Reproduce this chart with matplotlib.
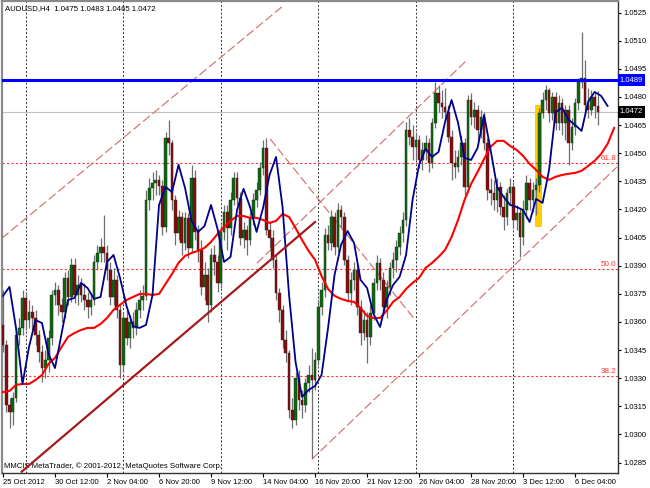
import numpy as np
import matplotlib
matplotlib.use("Agg")
import matplotlib.pyplot as plt
from matplotlib.patches import Rectangle

plt.rcParams["font.family"] = ["Liberation Sans", "DejaVu Sans"]

# AUDUSD H4 candles (bar 0 = 25 Oct 2012)
opens = [
    1.03584, 1.03477, 1.03157, 1.03120, 1.03194, 1.03530, 1.03568, 1.03728, 1.03610, 1.03653,
    1.03621, 1.03530, 1.03440, 1.03354, 1.03397, 1.03514, 1.03744, 1.03771, 1.03691, 1.03653,
    1.03835, 1.03733, 1.03904, 1.03744, 1.03797, 1.03744, 1.03717, 1.03680, 1.03717, 1.03920,
    1.03968, 1.04000, 1.03968, 1.03877, 1.03733, 1.03824, 1.03664, 1.03370, 1.03621, 1.03514,
    1.03600, 1.03568, 1.03664, 1.03717, 1.03739, 1.04251, 1.04315, 1.04342, 1.04358, 1.04326,
    1.04107, 1.04582, 1.04555, 1.04251, 1.04075, 1.04160, 1.04021, 1.04155, 1.03995, 1.04368,
    1.04080, 1.03984, 1.03787, 1.03851, 1.03691, 1.03957, 1.03920, 1.03808, 1.04080, 1.04187,
    1.04101, 1.04251, 1.04368, 1.04261, 1.04048, 1.04091, 1.04037, 1.04155, 1.04251, 1.04304,
    1.04422, 1.04528, 1.04091, 1.04048, 1.03931, 1.03755, 1.03664, 1.03504, 1.03434, 1.03130,
    1.03077, 1.03301, 1.03184, 1.03157, 1.03274, 1.03317, 1.03290, 1.03397, 1.03680, 1.03771,
    1.04064, 1.04021, 1.04160, 1.04000, 1.04197, 1.04160, 1.03931, 1.03755, 1.03824, 1.03877,
    1.03680, 1.03541, 1.03610, 1.03520, 1.03648, 1.03808, 1.03915, 1.03824, 1.03680, 1.03787,
    1.03888, 1.03931, 1.04000, 1.04075, 1.04144, 1.04624, 1.04587, 1.04534, 1.04571, 1.04464,
    1.04518, 1.04555, 1.04448, 1.04662, 1.04822, 1.04768, 1.04747, 1.04720, 1.04587, 1.04448,
    1.04427, 1.04480, 1.04555, 1.04320, 1.04784, 1.04694, 1.04731, 1.04624, 1.04694, 1.04555,
    1.04304, 1.04288, 1.04251, 1.04320, 1.04213, 1.04160, 1.04288, 1.04320, 1.04144, 1.04181,
    1.04053, 1.04197, 1.04342, 1.04251, 1.04304, 1.04331, 1.04715, 1.04784, 1.04838, 1.04715,
    1.04800, 1.04662, 1.04768, 1.04662, 1.04731, 1.04555, 1.04640, 1.04768, 1.04880, 1.04902,
    1.04758, 1.04731, 1.04800, 1.04750,
]
highs = [
    1.03771, 1.03504, 1.03194, 1.03226, 1.03557, 1.03621, 1.03771, 1.03760, 1.03717, 1.03691,
    1.03664, 1.03557, 1.03477, 1.03450, 1.03557, 1.03771, 1.03813, 1.03797, 1.03728, 1.03867,
    1.03877, 1.03941, 1.03941, 1.03851, 1.03835, 1.03808, 1.03760, 1.03755, 1.03957, 1.04011,
    1.04048, 1.04171, 1.04011, 1.03920, 1.03888, 1.03851, 1.03691, 1.03653, 1.03664, 1.03637,
    1.03653, 1.03707, 1.03771, 1.03797, 1.04304, 1.04368, 1.04400, 1.04411, 1.04384, 1.04358,
    1.04614, 1.04678, 1.04571, 1.04277, 1.04197, 1.04187, 1.04187, 1.04181, 1.04438, 1.04411,
    1.04117, 1.04037, 1.03920, 1.03888, 1.03995, 1.04011, 1.03957, 1.04117, 1.04224, 1.04224,
    1.04293, 1.04400, 1.04400, 1.04293, 1.04133, 1.04117, 1.04187, 1.04288, 1.04347, 1.04454,
    1.04571, 1.04582, 1.04133, 1.04091, 1.03957, 1.03781, 1.03691, 1.03557, 1.03450, 1.03194,
    1.03333, 1.03344, 1.03237, 1.03301, 1.03370, 1.03461, 1.03440, 1.03717, 1.03813, 1.04101,
    1.04117, 1.04197, 1.04187, 1.04235, 1.04224, 1.04187, 1.03957, 1.03867, 1.03920, 1.03904,
    1.03717, 1.03664, 1.03653, 1.03691, 1.03835, 1.03957, 1.03941, 1.03867, 1.03824, 1.03920,
    1.03973, 1.04037, 1.04112, 1.04187, 1.04667, 1.04688, 1.04651, 1.04614, 1.04598, 1.04560,
    1.04598, 1.04582, 1.04688, 1.04880, 1.04864, 1.04838, 1.04848, 1.04758, 1.04624, 1.04518,
    1.04518, 1.04598, 1.04582, 1.04811, 1.04822, 1.04774, 1.04758, 1.04731, 1.04720, 1.04582,
    1.04368, 1.04358, 1.04368, 1.04347, 1.04277, 1.04315, 1.04368, 1.04347, 1.04224, 1.04208,
    1.04251, 1.04384, 1.04368, 1.04347, 1.04368, 1.04742, 1.04827, 1.04864, 1.04848, 1.04827,
    1.04827, 1.04811, 1.04795, 1.04758, 1.04758, 1.04688, 1.04795, 1.04902, 1.05147, 1.04998,
    1.04848, 1.04838, 1.04827, 1.04830,
]
lows = [
    1.03440, 1.03120, 1.03034, 1.03050, 1.03173, 1.03477, 1.03530, 1.03557, 1.03568, 1.03557,
    1.03477, 1.03386, 1.03280, 1.03301, 1.03333, 1.03477, 1.03691, 1.03637, 1.03600, 1.03621,
    1.03691, 1.03707, 1.03701, 1.03691, 1.03707, 1.03664, 1.03621, 1.03637, 1.03691, 1.03877,
    1.03920, 1.03920, 1.03824, 1.03691, 1.03691, 1.03621, 1.03301, 1.03333, 1.03477, 1.03461,
    1.03514, 1.03530, 1.03621, 1.03664, 1.03717, 1.04197, 1.04251, 1.04277, 1.04277, 1.04064,
    1.04080, 1.04491, 1.04197, 1.04011, 1.04037, 1.03957, 1.03984, 1.03941, 1.03973, 1.04037,
    1.03920, 1.03744, 1.03717, 1.03600, 1.03653, 1.03851, 1.03760, 1.03781, 1.04037, 1.03984,
    1.04064, 1.04224, 1.04224, 1.04011, 1.03995, 1.03957, 1.04011, 1.04117, 1.04213, 1.04277,
    1.04384, 1.04064, 1.03995, 1.03888, 1.03717, 1.03600, 1.03461, 1.03386, 1.03088, 1.03034,
    1.03050, 1.03130, 1.03088, 1.03120, 1.03226, 1.02874, 1.03237, 1.03370, 1.03637, 1.03733,
    1.03984, 1.03984, 1.03957, 1.03973, 1.04101, 1.03904, 1.03717, 1.03691, 1.03771, 1.03637,
    1.03477, 1.03504, 1.03381, 1.03477, 1.03610, 1.03771, 1.03771, 1.03637, 1.03621, 1.03744,
    1.03835, 1.03867, 1.03957, 1.04027, 1.04112, 1.04544, 1.04464, 1.04464, 1.04422, 1.04411,
    1.04464, 1.04400, 1.04422, 1.04635, 1.04720, 1.04688, 1.04678, 1.04560, 1.04358, 1.04368,
    1.04400, 1.04438, 1.04277, 1.04293, 1.04651, 1.04635, 1.04571, 1.04582, 1.04518, 1.04251,
    1.04224, 1.04197, 1.04187, 1.04171, 1.04091, 1.04117, 1.04224, 1.04101, 1.04091, 1.03947,
    1.04011, 1.04155, 1.04197, 1.04187, 1.04171, 1.04293, 1.04688, 1.04731, 1.04667, 1.04678,
    1.04624, 1.04624, 1.04598, 1.04571, 1.04438, 1.04518, 1.04598, 1.04731, 1.04848, 1.04720,
    1.04688, 1.04704, 1.04688, 1.04650,
]
closes = [
    1.03477, 1.03157, 1.03120, 1.03194, 1.03530, 1.03568, 1.03728, 1.03610, 1.03653, 1.03621,
    1.03530, 1.03440, 1.03354, 1.03397, 1.03514, 1.03744, 1.03771, 1.03691, 1.03653, 1.03835,
    1.03733, 1.03904, 1.03744, 1.03797, 1.03744, 1.03717, 1.03680, 1.03717, 1.03920, 1.03968,
    1.04000, 1.03968, 1.03877, 1.03733, 1.03824, 1.03664, 1.03370, 1.03621, 1.03514, 1.03600,
    1.03568, 1.03664, 1.03717, 1.03739, 1.04251, 1.04315, 1.04342, 1.04358, 1.04326, 1.04107,
    1.04582, 1.04555, 1.04251, 1.04075, 1.04160, 1.04021, 1.04155, 1.03995, 1.04368, 1.04080,
    1.03984, 1.03787, 1.03851, 1.03691, 1.03957, 1.03920, 1.03808, 1.04080, 1.04187, 1.04101,
    1.04251, 1.04368, 1.04261, 1.04048, 1.04091, 1.04037, 1.04155, 1.04251, 1.04304, 1.04422,
    1.04528, 1.04091, 1.04048, 1.03931, 1.03755, 1.03664, 1.03504, 1.03434, 1.03130, 1.03077,
    1.03301, 1.03184, 1.03157, 1.03274, 1.03317, 1.03290, 1.03397, 1.03680, 1.03771, 1.04064,
    1.04021, 1.04160, 1.04000, 1.04197, 1.04160, 1.03931, 1.03755, 1.03824, 1.03877, 1.03680,
    1.03541, 1.03610, 1.03520, 1.03648, 1.03808, 1.03915, 1.03824, 1.03680, 1.03787, 1.03888,
    1.03931, 1.04000, 1.04075, 1.04144, 1.04624, 1.04587, 1.04534, 1.04571, 1.04464, 1.04518,
    1.04555, 1.04448, 1.04662, 1.04822, 1.04768, 1.04747, 1.04720, 1.04587, 1.04448, 1.04427,
    1.04480, 1.04555, 1.04320, 1.04784, 1.04694, 1.04731, 1.04624, 1.04694, 1.04555, 1.04304,
    1.04288, 1.04251, 1.04320, 1.04213, 1.04160, 1.04288, 1.04320, 1.04144, 1.04181, 1.04053,
    1.04197, 1.04342, 1.04251, 1.04304, 1.04331, 1.04715, 1.04784, 1.04838, 1.04715, 1.04800,
    1.04662, 1.04768, 1.04662, 1.04731, 1.04555, 1.04640, 1.04768, 1.04880, 1.04902, 1.04758,
    1.04731, 1.04800, 1.04752, 1.04720,
]

# moving averages read every 2nd bar (drawn shifted, so they run past the last candle)
ma_fast = [
    1.03739, 1.03787, 1.03568, 1.03269, 1.03466, 1.03610, 1.03594, 1.03429, 1.03354, 1.03536,
    1.03717, 1.03728, 1.03808, 1.03781, 1.03723, 1.03733, 1.03920, 1.03957, 1.03835, 1.03685,
    1.03578, 1.03568, 1.03584, 1.03744, 1.04224, 1.04320, 1.04293, 1.04438, 1.04315, 1.04139,
    1.04080, 1.04112, 1.04224, 1.04096, 1.03920, 1.03947, 1.04197, 1.04310, 1.04213, 1.04080,
    1.04208, 1.04384, 1.04480, 1.04213, 1.03744, 1.03386, 1.03200, 1.03237, 1.03258, 1.03317,
    1.03568, 1.03851, 1.04011, 1.04085, 1.04021, 1.03824, 1.03781, 1.03642, 1.03573, 1.03717,
    1.03797, 1.03840, 1.03957, 1.04251, 1.04438, 1.04523, 1.04480, 1.04507, 1.04667, 1.04784,
    1.04662, 1.04475, 1.04464, 1.04528, 1.04704, 1.04518, 1.04320, 1.04267, 1.04224, 1.04213,
    1.04197, 1.04133, 1.04256, 1.04235, 1.04411, 1.04720, 1.04742, 1.04678, 1.04651, 1.04619,
    1.04774, 1.04827, 1.04806, 1.04752,
]
ma_slow = [
    1.03226, 1.03232, 1.03264, 1.03269, 1.03269, 1.03290, 1.03317, 1.03376, 1.03408, 1.03466,
    1.03520, 1.03541, 1.03557, 1.03568, 1.03568, 1.03589, 1.03621, 1.03664, 1.03691, 1.03717,
    1.03733, 1.03749, 1.03749, 1.03744, 1.03749, 1.03803, 1.03856, 1.03915, 1.03952, 1.03968,
    1.03979, 1.03995, 1.04027, 1.04069, 1.04107, 1.04139, 1.04165, 1.04165, 1.04155, 1.04155,
    1.04144, 1.04128, 1.04139, 1.04176, 1.04160, 1.04101, 1.04037, 1.03979, 1.03931, 1.03845,
    1.03776, 1.03739, 1.03723, 1.03712, 1.03707, 1.03674, 1.03632, 1.03621, 1.03621, 1.03659,
    1.03707, 1.03733, 1.03776, 1.03808, 1.03835, 1.03888, 1.03915, 1.03947, 1.03984, 1.04053,
    1.04144, 1.04251, 1.04336, 1.04400, 1.04469, 1.04534, 1.04566, 1.04566, 1.04539, 1.04518,
    1.04486, 1.04443, 1.04411, 1.04374, 1.04358, 1.04374, 1.04384, 1.04390, 1.04395, 1.04406,
    1.04432, 1.04459, 1.04496, 1.04550, 1.04635,
]

date_labels = ["25 Oct 2012", "30 Oct 12:00", "2 Nov 04:00", "6 Nov 20:00", "9 Nov 12:00",
               "14 Nov 04:00", "16 Nov 20:00", "21 Nov 12:00", "26 Nov 04:00", "28 Nov 20:00",
               "3 Dec 12:00", "6 Dec 04:00"]
label_bars = [0, 16, 32, 48, 64, 80, 96, 112, 128, 144, 160, 176]
grid_bars = [7, 37, 67, 97, 127, 157]
price_ticks = [1.0285, 1.0300, 1.0315, 1.0330, 1.0345, 1.0360, 1.0375, 1.0390, 1.0405,
               1.0420, 1.0435, 1.0450, 1.0465, 1.0480, 1.0495, 1.0510, 1.0525]

resistance = 1.0489
bid = 1.0472
fib_names = ["61.8", "50.0", "38.2"]
fib_prices = [1.04447, 1.03881, 1.03312]

# chart objects as (bar, price) anchor pairs
trend_main = [(5.75, 1.02801), (96.0, 1.04133)]
channel_lines = [
    [(-0.4, 1.04046), (85.8, 1.05281)],
    [(82.2, 1.04576), (126.8, 1.03610)],
    [(78.1, 1.03913), (142.8, 1.04998)],
    [(95.0, 1.02867), (188.9, 1.04427)],
]
highlight_bars = (163.7, 165.8)
highlight_prices = (1.04107, 1.04758)

# ---------------------------------------------------------------
o = np.array(opens)
h = np.array(highs)
l = np.array(lows)
c = np.array(closes)
x = np.arange(len(c))

fig = plt.figure(figsize=(6.5, 4.88), dpi=100)
ax = fig.add_axes([2 / 650, 15 / 488, 616 / 650, 472 / 488])
ax.set_xlim(-0.31, 189.2)
ax.set_ylim(1.02794, 1.05312)

for g in grid_bars:
    ax.axvline(g, color="#303030", lw=0.7, ls=(0, (2, 2)), zorder=1)
ax.axhline(bid, color="#c0c0c0", lw=0.8, zorder=1)

ax.add_patch(Rectangle((highlight_bars[0], highlight_prices[0]),
                       highlight_bars[1] - highlight_bars[0],
                       highlight_prices[1] - highlight_prices[0],
                       color="#ffcc00", lw=0, zorder=2))

for name, lvl in zip(fib_names, fib_prices):
    ax.axhline(lvl, color="#ff3333", lw=0.8, ls=(0, (2, 2)), zorder=2)
    ax.text(188.6, lvl + 0.00004, name, color="#ff3333", fontsize=5.8,
            ha="right", va="bottom", zorder=2)

for (x0, y0), (x1, y1) in channel_lines:
    ax.plot([x0, x1], [y0, y1], color="#d06a6a", lw=0.8, dashes=(8, 3), zorder=2)

# candles
up = c >= o
body = np.maximum(np.abs(c - o), 0.00002)
ax.vlines(x, l, h, color="#6e6e6e", lw=0.9, zorder=3)
ax.bar(x[up], body[up], bottom=o[up], width=0.8, color="#0b6a0b",
       edgecolor="#222222", lw=0.3, zorder=4)
ax.bar(x[~up], body[~up], bottom=c[~up], width=0.8, color="#8c0c0c",
       edgecolor="#222222", lw=0.3, zorder=4)

ax.plot(np.arange(len(ma_slow)) * 2, ma_slow, color="#ff0000", lw=1.5, zorder=5)
ax.plot(np.arange(len(ma_fast)) * 2, ma_fast, color="#00008b", lw=1.3, zorder=5)

ax.plot([p[0] for p in trend_main], [p[1] for p in trend_main],
        color="#a51b1b", lw=1.6, zorder=6)
ax.axhline(resistance, color="#0000ff", lw=2.2, zorder=6)

# axes styling
for side in ["left", "top"]:
    ax.spines[side].set_color("#8a8a8a")
    ax.spines[side].set_linewidth(1.6)
for side in ["right", "bottom"]:
    ax.spines[side].set_color("#333333")
    ax.spines[side].set_linewidth(1.0)

ax.yaxis.tick_right()
ax.set_yticks(price_ticks)
ax.set_yticklabels([f"{p:.4f}" for p in price_ticks])
ax.tick_params(axis="y", length=2.5, width=0.8, direction="out", labelsize=5.5, pad=1.5)
ax.set_xticks(label_bars)
ax.set_xticklabels(date_labels, ha="left")
ax.tick_params(axis="x", length=3, width=0.8, direction="out", labelsize=5.5, pad=1.5)

tr = ax.get_yaxis_transform()
ax.text(1.003, resistance, "1.0489", transform=tr, color="white", fontsize=5.5,
        va="center", ha="left", clip_on=False, zorder=10,
        bbox=dict(boxstyle="square,pad=0.3", fc="#0000ff", ec="none"))
ax.text(1.003, bid, "1.0472", transform=tr, color="white", fontsize=5.5,
        va="center", ha="left", clip_on=False, zorder=10,
        bbox=dict(boxstyle="square,pad=0.3", fc="black", ec="none"))

ax.text(0.005, 0.992, "AUDUSD,H4  1.0475 1.0483 1.0465 1.0472", transform=ax.transAxes,
        fontsize=5.6, va="top", ha="left", zorder=7)
ax.text(0.003, 0.006, "MMCIS MetaTrader, \u00a9 2001-2012, MetaQuotes Software Corp.",
        transform=ax.transAxes, fontsize=5.6, va="bottom", ha="left", zorder=1)

fig.savefig("out.png", dpi=100)
